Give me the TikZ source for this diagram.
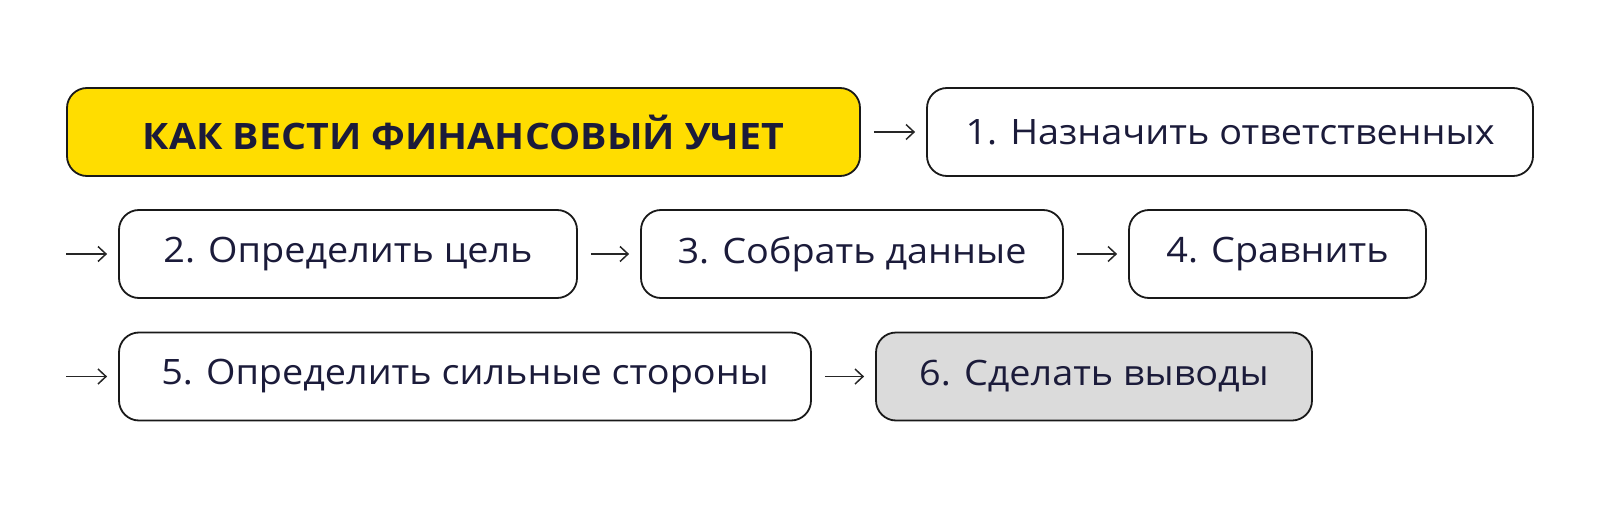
\documentclass[tikz,border=0pt]{standalone}
\usepackage{fontspec}
\setmainfont{Open Sans}[FakeStretch=1.08]
\usetikzlibrary{arrows.meta, positioning}
\definecolor{planyellow}{HTML}{FFDD00}
\definecolor{plannavy}{HTML}{1B1B3A}
\definecolor{plangrey}{HTML}{DBDBDB}

\begin{document}
\begin{tikzpicture}[
    x=0.5pt,
    y=-0.5pt,
    titlebox/.style={
        draw=black!90,
        fill=planyellow,
        rounded corners=10pt,
        line width=0.9pt,
        minimum height=44pt,
        inner sep=0pt,
        align=center,
        text=plannavy,
        font=\fontsize{18.2}{22}\selectfont\bfseries
    },
    stepbox/.style={
        draw=black!90,
        fill=white,
        rounded corners=10pt,
        line width=0.9pt,
        minimum height=44pt,
        inner sep=0pt,
        align=center,
        text=plannavy,
        font=\fontsize{17.5}{21}\selectfont
    },
    lastbox/.style={
        stepbox,
        fill=plangrey
    },
    arr/.style={
        -{Straight Barb[length=4pt,width=7.5pt]},
        draw=black!85,
        line width=0.75pt,
        shorten <=6.5pt,
        shorten >=5.5pt
    }
]

\useasboundingbox (0,0) rectangle (1600,508);

% -----------------------------------------------------
% Nodes
% -----------------------------------------------------

\node[titlebox, minimum width=396.5pt] (title) at (463.5,132)
    {КАК ВЕСТИ ФИНАНСОВЫЙ УЧЕТ};

\node[stepbox, minimum width=303pt] (resp) at (1230,132)
    {1. Назначить ответственных};

\node[stepbox, minimum width=229pt] (goal) at (348,254)
    {2. Определить цель};

\node[stepbox, minimum width=211pt] (data) at (852,254)
    {3. Собрать данные};

\node[stepbox, minimum width=148.5pt] (compare) at (1277.5,254)
    {4. Сравнить};

\node[stepbox, minimum width=346pt] (strong) at (465,376.5)
    {5. Определить сильные стороны};

\node[lastbox, minimum width=218pt] (conclude) at (1094,376.5)
    {6. Сделать выводы};

% row starts
\coordinate (row2) at (66,254);
\coordinate (row3) at (66,376.5);

% -----------------------------------------------------
% Arrows
% -----------------------------------------------------

\draw[arr] (title) -- (resp);

\draw[arr, shorten <=0pt] (row2) -- (goal);
\draw[arr] (goal) -- (data);
\draw[arr] (data) -- (compare);

\draw[arr, shorten <=0pt] (row3) -- (strong);
\draw[arr] (strong) -- (conclude);

\end{tikzpicture}
\end{document}
